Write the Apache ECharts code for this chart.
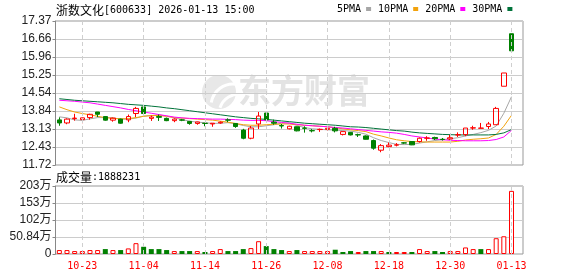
<!DOCTYPE html>
<html><head><meta charset="utf-8">
<script src="https://cdn.jsdelivr.net/npm/echarts@6/dist/echarts.min.js"></script>
<style>html,body{margin:0;padding:0;background:#fff}#c{width:578px;height:276px}</style>
</head><body><div id="c"></div><script>
const stockName = '浙数文化';
const stockCode = '600633';
const stamp = '2026-01-13 15:00';
const dates = ['10-20','10-21','10-22','10-23','10-24','10-27','10-28','10-29','10-30','10-31',
 '11-03','11-04','11-05','11-06','11-07','11-10','11-11','11-12','11-13','11-14',
 '11-17','11-18','11-19','11-20','11-21','11-24','11-25','11-26','11-27','11-28',
 '12-01','12-02','12-03','12-04','12-05','12-08','12-09','12-10','12-11','12-12',
 '12-15','12-16','12-17','12-18','12-19','12-22','12-23','12-24','12-25','12-26',
 '12-29','12-30','12-31','01-05','01-06','01-07','01-08','01-09','01-12','01-13'];
const opens = [13.49,13.37,13.54,13.50,13.58,13.80,13.62,13.48,13.52,13.49,
 13.74,14.00,13.55,13.62,13.55,13.46,13.49,13.43,13.35,13.36,
 13.33,13.37,13.49,13.35,13.09,12.77,13.33,13.76,13.40,13.27,
 13.14,13.22,13.17,13.07,13.11,13.12,13.16,12.92,13.00,12.91,
 12.86,12.68,12.30,12.44,12.50,12.59,12.64,12.64,12.77,12.80,
 12.73,12.74,12.90,12.91,13.17,13.16,13.23,13.30,14.81,16.87];
const closes = [13.37,13.52,13.56,13.57,13.71,13.71,13.48,13.56,13.36,13.62,
 13.94,13.74,13.60,13.59,13.46,13.52,13.48,13.35,13.41,13.35,
 13.36,13.40,13.48,13.23,12.77,13.17,13.64,13.49,13.36,13.25,
 13.24,13.06,13.16,13.06,13.12,13.16,13.06,13.03,12.90,12.90,
 12.73,12.38,12.48,12.50,12.51,12.58,12.51,12.77,12.78,12.75,
 12.72,12.79,12.91,13.17,13.18,13.17,13.33,13.94,15.33,16.20];
const lows = [13.26,13.32,13.46,13.36,13.50,13.60,13.46,13.42,13.34,13.40,
 13.60,13.72,13.45,13.45,13.44,13.40,13.44,13.30,13.30,13.24,
 13.22,13.34,13.40,13.18,12.73,12.73,13.13,13.47,13.30,13.15,
 13.12,13.04,12.99,13.00,13.02,13.08,13.00,12.88,12.88,12.82,
 12.72,12.32,12.22,12.42,12.45,12.55,12.50,12.60,12.67,12.70,
 12.68,12.70,12.82,12.85,13.10,13.16,13.13,13.30,14.81,16.12];
const highs = [13.59,13.55,13.73,13.58,13.73,13.80,13.64,13.58,13.54,13.70,
 14.00,14.00,13.66,13.70,13.58,13.55,13.53,13.45,13.42,13.36,
 13.36,13.43,13.55,13.36,13.14,13.25,13.80,13.76,13.50,13.33,
 13.26,13.23,13.24,13.13,13.15,13.20,13.22,13.03,13.02,12.95,
 12.88,12.72,12.54,12.60,12.58,12.62,12.66,12.80,12.85,12.83,
 12.78,12.90,13.00,13.17,13.26,13.37,13.41,14.00,15.33,16.87];
const ma5 = [13.61,13.57,13.49,13.47,13.53,13.58,13.58,13.57,13.52,13.52,
 13.56,13.64,13.66,13.68,13.64,13.57,13.50,13.44,13.40,13.38,
 13.35,13.36,13.38,13.34,13.27,13.22,13.22,13.26,13.30,13.36,
 13.37,13.27,13.19,13.14,13.12,13.10,13.09,13.07,13.05,13.00,
 12.93,12.79,12.68,12.60,12.53,12.52,12.53,12.58,12.63,12.68,
 12.71,12.75,12.79,12.86,12.92,12.99,13.08,13.25,13.75,14.40];
const ma10 = [14.00,13.89,13.80,13.74,13.69,13.63,13.58,13.55,13.53,13.54,
 13.58,13.63,13.66,13.66,13.63,13.58,13.56,13.54,13.52,13.50,
 13.48,13.44,13.40,13.35,13.30,13.28,13.28,13.30,13.32,13.33,
 13.33,13.30,13.28,13.26,13.24,13.22,13.18,13.14,13.10,13.07,
 13.03,12.93,12.86,12.78,12.71,12.67,12.64,12.63,12.62,12.62,
 12.62,12.62,12.65,12.70,12.73,12.75,12.78,12.92,13.24,13.67];
const ma20 = [14.26,14.24,14.22,14.19,14.16,14.11,14.06,14.01,13.96,13.90,
 13.85,13.80,13.75,13.70,13.65,13.60,13.57,13.55,13.54,13.53,
 13.52,13.52,13.51,13.50,13.48,13.47,13.47,13.46,13.42,13.39,
 13.36,13.32,13.28,13.26,13.24,13.22,13.19,13.17,13.14,13.11,
 13.08,13.05,13.02,13.00,12.97,12.92,12.86,12.82,12.78,12.74,
 12.71,12.69,12.68,12.67,12.67,12.67,12.68,12.72,12.82,13.08];
const ma30 = [14.32,14.29,14.26,14.24,14.22,14.20,14.18,14.16,14.13,14.10,
 14.08,14.06,14.03,14.00,13.96,13.93,13.89,13.85,13.81,13.77,
 13.73,13.69,13.65,13.61,13.58,13.55,13.53,13.51,13.48,13.45,
 13.42,13.39,13.36,13.34,13.32,13.30,13.28,13.25,13.22,13.21,
 13.19,13.16,13.13,13.10,13.07,13.05,13.01,12.98,12.96,12.94,
 12.92,12.91,12.90,12.90,12.90,12.90,12.90,12.92,12.98,13.11];
const volumes = [118000,118000,88000,88000,118000,118000,147000,118000,118000,167000,
 324000,216000,147000,147000,118000,88000,88000,88000,88000,59000,
 88000,147000,88000,88000,147000,177000,383000,236000,147000,118000,
 88000,118000,88000,88000,88000,88000,128000,59000,88000,59000,
 88000,88000,88000,59000,59000,59000,59000,147000,88000,88000,
 59000,88000,88000,196000,147000,147000,147000,472000,530000,1888231];
const volUp = [1,1,1,1,1,1,0,1,0,1, 1,0,0,0,0,1,0,0,1,0,
 1,1,0,0,0,1,1,0,0,0, 1,0,1,1,1,1,0,0,0,1,
 0,0,1,0,1,1,0,1,1,0, 0,1,1,1,1,0,1,1,1,1];
const priceTicks = ['11.72','12.43','13.13','13.84','14.54','15.25','15.96','16.66','17.37'];
const priceMin = 11.72, priceMax = 17.37;
const volTicks = ['0','50.84万','102万','153万','203万'];
const volMax = 2033600;
const labelDates = ['10-23','11-04','11-14','11-26','12-08','12-18','12-30','01-13'];
const maNames = ['5PMA','10PMA','20PMA','30PMA'];
const maColors = ['#a6a6a6','#f2a20c','#ff00ff','#00733a'];

const RED = '#ff0000', GREEN = '#008000';
const chart = echarts.init(document.getElementById('c'), null, {renderer:'canvas'});
const gridStyle = {show:true, borderColor:'#999', borderWidth:1, backgroundColor:'transparent'};
const yLabel = {color:'#222', fontSize:12, fontFamily:'"Liberation Sans","Noto Sans CJK SC",sans-serif', margin:4, interval:0};
const dashed = {silent:true, symbol:['none','none'], label:{show:false}, animation:false,
  lineStyle:{color:'#cfcfcf', type:[4,3], width:1}, emphasis:{disabled:true},
  data: labelDates.map(d => ({xAxis:d}))};

const maSeries = [ma5, ma10, ma20, ma30].map((arr, k) => {
  const s = {
    name: maNames[k], type:'line', xAxisIndex:0, yAxisIndex:0, data:arr, symbol:'none',
    lineStyle:{width:1, color:maColors[k]}, itemStyle:{color:maColors[k]}, z:2, silent:true
  };
  if (k === 3) s.markLine = dashed;
  return s;
});
const richTitle = {n:{fontFamily:'"Noto Sans CJK SC"', fontSize:12, color:'#000', fontWeight:'normal'},
                   m:{fontFamily:'"DejaVu Sans Mono"', fontSize:10, color:'#000', fontWeight:'normal'}};

chart.setOption({
  animation:false,
  title:[
    {text:'{n|' + stockName + '}{m|[' + stockCode + '] ' + stamp + '}', left:56, top:4, padding:0,
     textStyle:{fontWeight:'normal', rich:richTitle}},
    {text:'{n|成交量}{m|:' + volumes[volumes.length-1] + '}', left:56, top:171, padding:0,
     textStyle:{fontWeight:'normal', rich:richTitle}}
  ],
  legend:{data:maNames, left:337, top:4, padding:0, align:'right', icon:'rect', itemWidth:5, itemHeight:4,
    itemGap:7, selectedMode:false, textStyle:{fontFamily:'"DejaVu Sans Mono"', fontSize:10, color:'#000'}},
  graphic:[
    {type:'text', x:238, y:74, z:-10, silent:true,
     style:{text:'东方财富', font:'bold 33px "Noto Sans CJK SC"', fill:'#e3e3e3'}},
    {type:'circle', x:219, y:92, z:-10, silent:true, shape:{cx:0, cy:0, r:17}, style:{fill:'#e8e8e8'}},
    {type:'arc', x:219, y:92, z:-9, silent:true, shape:{cx:14, cy:14, r:22, startAngle:Math.PI*1.05, endAngle:Math.PI*1.6},
     style:{stroke:'#fff', lineWidth:3, fill:null}},
    {type:'arc', x:219, y:92, z:-9, silent:true, shape:{cx:20, cy:22, r:20, startAngle:Math.PI*1.1, endAngle:Math.PI*1.55},
     style:{stroke:'#fff', lineWidth:3, fill:null}}
  ],
  grid:[
    Object.assign({left:55.5, right:55, top:21, height:144}, gridStyle),
    Object.assign({left:55.5, right:55, top:186, height:68}, gridStyle)
  ],
  xAxis:[
    {type:'category', gridIndex:0, data:dates, max:60, boundaryGap:true,
     axisLine:{show:false}, axisTick:{show:false}, axisLabel:{show:false}, splitLine:{show:false}},
    {type:'category', gridIndex:1, data:dates, max:60, boundaryGap:true,
     axisLine:{show:false}, axisTick:{show:false}, splitLine:{show:false},
     axisLabel:{show:true, color:RED, fontFamily:'"DejaVu Sans Mono"', fontSize:10, margin:7,
       interval:(idx, val) => labelDates.indexOf(val) >= 0}}
  ],
  yAxis:[
    {type:'value', gridIndex:0, min:priceMin, max:priceMax, show:false, position:'right'},
    {type:'category', gridIndex:0, data:priceTicks, boundaryGap:false, position:'left',
     axisLine:{show:true, lineStyle:{color:'#888'}}, axisTick:{show:true, length:3, interval:0, lineStyle:{color:'#888'}},
     axisLabel:yLabel, splitLine:{show:true, interval:0, lineStyle:{color:'#cccccc', width:1}}},
    {type:'value', gridIndex:1, min:0, max:volMax, show:false, position:'right'},
    {type:'category', gridIndex:1, data:volTicks, boundaryGap:false, position:'left',
     axisLine:{show:true, lineStyle:{color:'#888'}}, axisTick:{show:true, length:3, interval:0, lineStyle:{color:'#888'}},
     axisLabel:yLabel, splitLine:{show:true, interval:0, lineStyle:{color:'#cccccc', width:1}}}
  ],
  series:[
    ...maSeries,
    {type:'candlestick', xAxisIndex:0, yAxisIndex:0, barWidth:5, z:3, silent:true,
     data: dates.map((d, i) => [opens[i], closes[i], lows[i], highs[i]]),
     itemStyle:{color:'transparent', color0:GREEN, borderColor:RED, borderColor0:GREEN, borderWidth:1}},
    {type:'bar', xAxisIndex:1, yAxisIndex:2, barWidth:5, silent:true,
     data: volumes.map((v, i) => ({value:v, itemStyle: volUp[i]
        ? {color:'#fff', borderColor:RED, borderWidth:1}
        : {color:GREEN, borderColor:GREEN, borderWidth:0}})),
     markLine: dashed}
  ]
});
</script></body></html>
